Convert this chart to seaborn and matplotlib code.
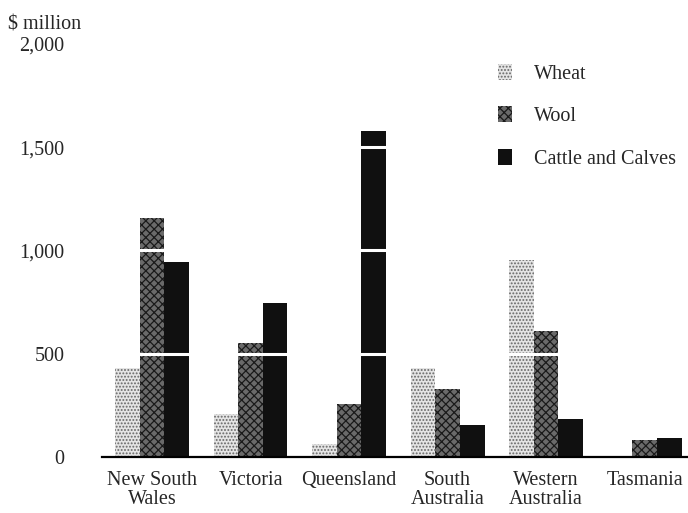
import pandas as pd
import matplotlib
matplotlib.use("Agg")
import matplotlib.pyplot as plt
import seaborn as sns
from matplotlib.patches import Patch

states = ["New South\nWales", "Victoria", "Queensland",
          "South\nAustralia", "Western\nAustralia", "Tasmania"]
wheat = [430, 210, 65, 430, 955, 2]
wool = [1157, 550, 257, 330, 610, 80]
cattle = [944, 745, 1580, 155, 182, 90]
series = ["Wheat", "Wool", "Cattle and Calves"]

df = pd.DataFrame({
    "state": states * 3,
    "product": [s for s in series for _ in states],
    "value": wheat + wool + cattle,
})

sns.set_style("white")
plt.rcParams["font.family"] = ["Liberation Serif", "DejaVu Serif"]
plt.rcParams["hatch.linewidth"] = 0.9

fig = plt.figure(figsize=(6.88, 5.13), dpi=100)
ax = fig.add_axes([0.1483, 0.1092, 0.8517, 0.805])

faces = ["#e4e4e4", "#6a6a6a", "#101010"]
hatch_cols = ["#666666", "#1a1a1a", "#101010"]
hatches = [".....", "xxxx", ""]
fs = 14.5

sns.barplot(data=df, x="state", y="value", hue="product", order=states,
            hue_order=series, width=0.75, gap=0, ax=ax, legend=False,
            palette=faces, saturation=1)

for cont, fc, hc, h in zip(ax.containers, faces, hatch_cols, hatches):
    for bar in cont:
        bar.set_facecolor(fc)
        bar.set_edgecolor(hc)
        bar.set_hatch(h)
        bar.set_linewidth(0)

# white breaks across the bars at each gridline value
for yv in [500, 1000, 1500]:
    ax.axhline(yv, color="white", lw=2.2, zorder=5)

ax.set_ylim(0, 2000)
ax.set_xlim(-0.507, 5.44)
ax.set_yticks([0, 500, 1000, 1500, 2000])
ax.set_yticklabels(["0", "500", "1,000", "1,500", "2,000"], fontsize=fs)
ax.tick_params(axis="y", length=0, pad=27)
ax.tick_params(axis="x", length=0, pad=10, labelsize=fs)
for lab in ax.get_xticklabels():
    lab.set_linespacing(1.0)
ax.set_xlabel("")
ax.set_ylabel("")
for side in ["top", "right", "left"]:
    ax.spines[side].set_visible(False)
ax.spines["bottom"].set_color("black")
ax.spines["bottom"].set_linewidth(1.6)

fig.text(0.012, 0.952, "$ million", fontsize=fs, va="center", ha="left")

handles = [Patch(facecolor=fc, edgecolor=hc, hatch=h, linewidth=0)
           for fc, hc, h in zip(faces, hatch_cols, hatches)]
ax.legend(handles, series, loc="upper left", bbox_to_anchor=(0.645, 0.995),
          frameon=False, fontsize=fs, handlelength=0.7, handleheight=0.85,
          handletextpad=1.1, labelspacing=1.1)

fig.savefig("out.png", dpi=100)
